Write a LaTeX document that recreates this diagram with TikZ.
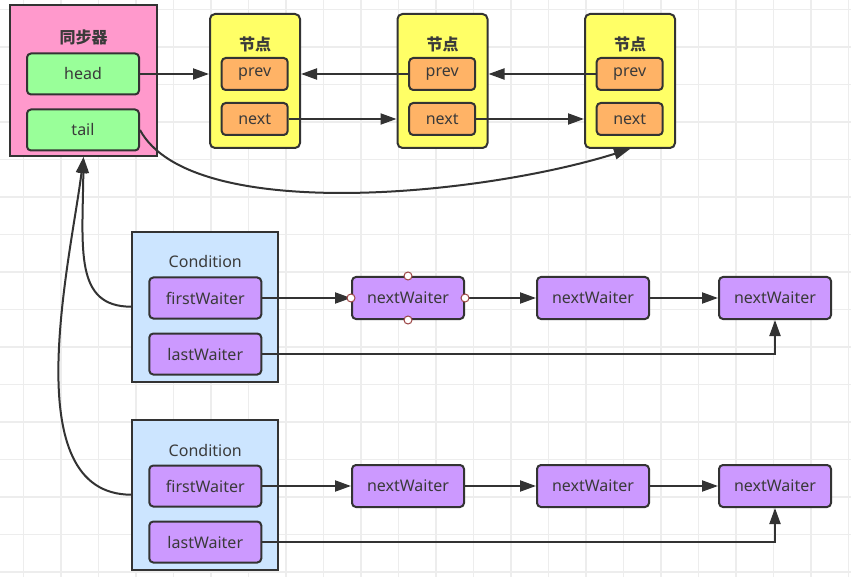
\documentclass[tikz,border=0pt]{standalone}
\usepackage{fontspec}
\setmainfont{Noto Sans}
\newfontfamily\cjk{Noto Sans CJK SC}
\usetikzlibrary{arrows.meta}

\definecolor{linegray}{HTML}{333333}
\definecolor{textgray}{HTML}{3A3A3A}
\definecolor{gridgray}{HTML}{EDEDED}
\definecolor{syncpink}{HTML}{FF99CC}
\definecolor{headgreen}{HTML}{99FF99}
\definecolor{nodeyellow}{HTML}{FFFF66}
\definecolor{ptrorange}{HTML}{FFB366}
\definecolor{condblue}{HTML}{CCE5FF}
\definecolor{waitpurple}{HTML}{CC99FF}
\definecolor{handlered}{HTML}{9C4545}

\begin{document}
\begin{tikzpicture}[x=1pt,y=-1pt,
    box/.style={draw=linegray,line width=2pt,inner sep=0pt,text=textgray,
                font=\fontsize{16}{19}\selectfont},
    holder/.style={box,minimum width=147pt,minimum height=151pt},
    field/.style={box,rounded corners=4pt,minimum width=112pt,minimum height=41pt},
    linknode/.style={box,fill=nodeyellow,rounded corners=5pt,minimum width=90pt,minimum height=134pt},
    ptr/.style={box,fill=ptrorange,rounded corners=4pt,minimum width=66pt,minimum height=32pt},
    waiter/.style={field,fill=waitpurple,minimum height=42pt},
    title/.style={inner sep=0pt,text=textgray,font=\fontsize{16}{19}\selectfont},
    handle/.style={circle,draw=handlered,fill=white,line width=1pt,inner sep=0pt,minimum size=8pt},
    gridline/.style={draw=gridgray,line width=1.3pt}]

\useasboundingbox (0,0) rectangle (851,577);
\fill[white] (0,0) rectangle (851,577);
\foreach \gx in {0,...,22}
    \draw[gridline] ({23.5+37.5*\gx},0) -- ({23.5+37.5*\gx},577);
\foreach \gy in {0,...,15}
    \draw[gridline] (0,{9.5+37.5*\gy}) -- (851,{9.5+37.5*\gy});

% synchronizer with head and tail
\node[holder,fill=syncpink] (sync) at (83.5,80.5) {};
\node[title] (synct) at (83.5,37) {\cjk\bfseries 同步器};
\node[field,fill=headgreen] (head) at (83,74) {head};
\node[field,fill=headgreen] (tail) at (83,130) {tail};

% queue nodes
\foreach \i/\x in {1/255,2/442.5,3/630} {
    \node[linknode] (n\i) at (\x,81) {};
    \node[title] (t\i) at (\x,44) {\cjk\bfseries 节点};
    \node[ptr] (p\i) at (\x-0.3,74) {prev};
    \node[ptr] (x\i) at (\x-0.3,119) {next};
}

% condition queues
\foreach \j/\y in {1/306.7,2/494.7} {
    \node[holder,fill=condblue,minimum width=146pt,minimum height=150pt] (c\j) at (205.3,\y) {};
    \node[title] (ct\j) at (205.3,\y-44.7) {Condition};
    \node[waiter,minimum height=41pt] (fw\j) at (205.3,\y-8.7) {firstWaiter};
    \node[waiter,minimum height=41pt] (lw\j) at (205.3,\y+47.3) {lastWaiter};
    \node[waiter] (w\j-1) at (408,\y-8.7) {nextWaiter};
    \node[waiter] (w\j-2) at (593,\y-8.7) {nextWaiter};
    \node[waiter] (w\j-3) at (775,\y-8.7) {nextWaiter};
}

\begin{scope}[>={Triangle[length=16pt,width=11pt]},
              every path/.style={draw=linegray,line width=2pt}]
    \path [->] (head) edge (head -| n1.west);
    \path [->] (p2) edge (p2 -| n1.east);
    \path [->] (p3) edge (p3 -| n2.east);
    \path [->] (x1) edge (x1 -| n2.west);
    \path [->] (x2) edge (x2 -| n3.west);
    \draw [->] (tail.east) .. controls +(51,94) and +(-150,47) .. (n3.south);
    \foreach \j in {1,2} {
        \draw [->] (fw\j) -- (w\j-1);
        \draw [->] (w\j-1) -- (w\j-2);
        \draw [->] (w\j-2) -- (w\j-3);
        \draw [->] (lw\j) -| (w\j-3);
    }
    \draw [->] (c1.west) .. controls +(-57,0) and +(-1,93) .. (sync.south);
    \draw [->] (c2.west) .. controls +(-117,0) and +(-13,103) .. (sync.south);
\end{scope}

% selection handles
\foreach \a in {north,south,east,west}
    \node[handle] (h-\a) at (w1-1.\a) {};
\end{tikzpicture}
\end{document}
